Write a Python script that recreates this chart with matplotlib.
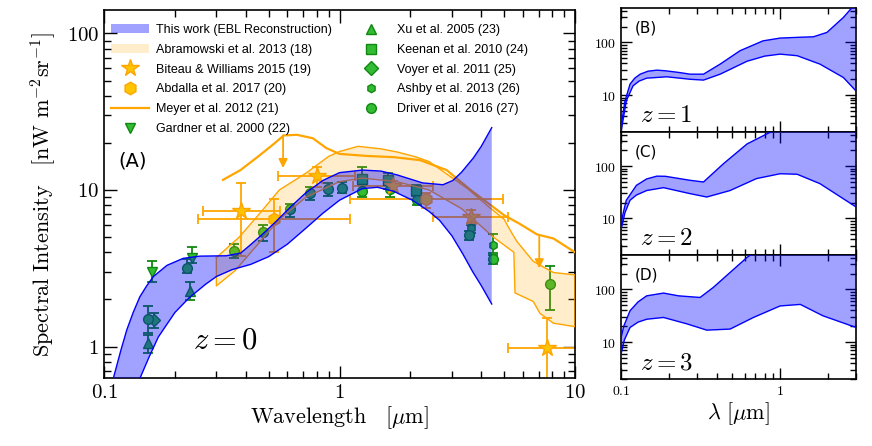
import numpy as np
import matplotlib.pyplot as plt
from matplotlib.lines import Line2D
from matplotlib.patches import Patch
from matplotlib.ticker import FuncFormatter, NullFormatter

plt.rcParams['mathtext.fontset'] = 'cm'
plt.rcParams['font.family'] = ['Liberation Sans', 'DejaVu Sans']

# ---- z = 0 reconstruction band (this work)
wl_up0 = [0.109, 0.118, 0.125, 0.133, 0.142, 0.152, 0.162, 0.185, 0.217, 0.255, 0.33, 0.38, 0.414, 0.47,
          0.538, 0.62, 0.72, 0.85, 1.0, 1.25, 1.5, 1.75, 2.25, 2.75, 3.03, 3.3, 3.7, 4.0, 4.43]
up0 = [0.61, 0.95, 1.28, 1.65, 2.08, 2.45, 2.8, 3.3, 3.66, 3.78, 3.8, 3.95, 4.4, 5.2,
       6.3, 7.8, 9.6, 11.5, 12.9, 13.4, 13.2, 12.5, 11.1, 10.8, 11.5, 13.0, 16.0, 19.0, 25.0]
wl_lo0 = [0.141, 0.155, 0.17, 0.2, 0.23, 0.27, 0.3, 0.35, 0.42, 0.5, 0.6, 0.72, 0.85, 1.0, 1.25,
          1.45, 1.7, 2.04, 2.4, 2.66, 3.0, 3.34, 3.68, 4.0, 4.43]
lo0 = [0.61, 0.85, 1.15, 1.65, 2.05, 2.5, 2.8, 3.1, 3.35, 3.75, 4.5, 5.7, 7.1, 8.6, 10.2,
       10.4, 9.8, 8.6, 7.3, 6.4, 5.1, 3.9, 3.0, 2.45, 1.87]

# ---- Abramowski et al. 2013 band
wl_abr_up = [0.3, 0.375, 0.47, 0.555, 0.72, 0.9, 1.0, 1.2, 1.5, 1.75, 2.1, 2.4, 2.95, 3.5, 4.22,
             5.0, 5.3, 5.66, 6.65, 8.1, 10.0]
abr_up = [3.7, 5.0, 7.4, 10.0, 12.8, 16.4, 17.6, 19.0, 18.3, 17.5, 16.3, 15.2, 12.2, 10.2, 8.0,
          6.5, 5.55, 4.7, 3.5, 2.97, 2.87]
wl_abr_lo = [0.3, 0.36, 0.45, 0.55, 0.72, 1.0, 1.25, 1.75, 2.4, 3.3, 4.5, 5.5, 5.56, 6.65, 7.1,
             8.1, 10.0]
abr_lo = [2.44, 3.05, 4.5, 6.4, 9.0, 11.3, 11.9, 11.3, 10.0, 7.6, 5.0, 4.0, 2.2, 1.94, 1.63,
          1.41, 1.34]

# ---- Meyer et al. 2012 upper limit curve
wl_mey = [0.32, 0.38, 0.45, 0.52, 0.58, 0.66, 0.77, 0.88, 1.0, 1.3, 1.7, 2.2, 2.85, 3.6, 5.0,
          5.8, 6.9, 8.1, 10.0]
mey = [11.6, 13.4, 16.3, 19.4, 22.3, 22.5, 21.4, 18.5, 17.0, 16.5, 16.2, 15.5, 13.4, 10.0, 6.9,
       6.1, 5.2, 4.9, 4.0]
mey_arrow_wl = [0.576, 7.05]
mey_arrow_from = [22.3, 5.04]
mey_arrow_to = [13.8, 3.16]

# ---- Biteau & Williams 2015
bw_wl = [0.383, 0.80, 1.69, 3.6, 7.59]
bw_I = [7.38, 12.3, 10.6, 6.76, 0.977]
bw_wl_lo = [0.262, 0.549, 1.14, 2.5, 5.2]
bw_wl_hi = [0.56, 1.166, 2.5, 5.2, 11.1]
bw_lo = [3.76, 10.5, 9.9, 6.15, 0.4]
bw_hi = [11.0, 14.1, 11.4, 7.45, 1.52]

# ---- Abdalla et al. 2017
ab_wl = [0.528, 2.34]
ab_I = [6.5, 8.7]
ab_wl_lo = [0.251, 1.11]
ab_wl_hi = [1.11, 4.93]
ab_lo = [4.04, 7.67]
ab_hi = [8.72, 9.6]

# ---- galaxy counts
gar_wl = [0.16, 0.237]
gar_I = [3.0, 3.66]
gar_lo = [2.58, 3.42]
gar_hi = [3.54, 4.35]

xu_wl = [0.154, 0.231]
xu_I = [1.06, 2.28]
xu_lo = [0.915, 1.99]
xu_hi = [1.19, 2.6]

kee_wl = [1.25, 1.6, 2.12]
kee_I = [11.7, 11.5, 10.0]
kee_lo = [9.75, 10.2, 9.1]
kee_hi = [14.1, 12.9, 10.8]

voy_wl = [0.163]
voy_I = [1.48]
voy_lo = [1.32]
voy_hi = [1.65]

ash_wl = [3.6, 4.5]
ash_I = [5.7, 4.46]
ash_lo = [5.35, 3.94]
ash_hi = [6.0, 5.23]

dri_wl = [0.154, 0.226, 0.357, 0.472, 0.616, 0.75, 0.896, 1.02, 1.25, 1.64, 2.14, 3.55, 4.5, 7.83]
dri_I = [1.50, 3.19, 4.1, 5.37, 7.53, 9.5, 10.1, 10.3, 9.85, 10.2, 8.6, 5.16, 3.6, 2.51]
dri_lo = [1.22, 2.94, 3.66, 4.75, 6.77, 8.6, 9.1, 9.5, 9.0, 9.0, 8.0, 4.8, 3.35, 1.70]
dri_hi = [1.82, 3.6, 4.53, 5.98, 8.13, 10.5, 11.1, 11.2, 10.7, 11.2, 9.3, 5.5, 3.85, 3.29]

# ---- higher redshift bands (upper edges run off the top of the panels)
wl_up1 = [0.1, 0.103, 0.106, 0.114, 0.122, 0.132, 0.148, 0.168, 0.19, 0.23, 0.272, 0.33, 0.42, 0.56,
          0.78, 1.0, 1.3, 1.62, 1.97, 2.5, 2.78, 3.0]
up1 = [2.5, 4.5, 7.8, 16.2, 21, 25, 28.5, 29.8, 29, 27, 25, 25, 38.8, 69.6,
       107, 121, 125, 128, 155, 298, 430, 520]
wl_lo1 = [0.1, 0.104, 0.108, 0.119, 0.13, 0.145, 0.194, 0.272, 0.33, 0.42, 0.62, 0.8, 1.0, 1.28,
          1.78, 2.5, 3.0]
lo1 = [2.0, 4.0, 7.8, 15, 18.5, 21, 22.3, 20, 19.3, 25, 44, 55, 60, 56,
       38.8, 21.6, 12]

wl_up2 = [0.1, 0.104, 0.108, 0.125, 0.145, 0.168, 0.19, 0.272, 0.33, 0.44, 0.62, 0.82, 0.9, 1.5, 3.0]
up2 = [8.0, 14, 22.3, 43, 57, 64.4, 64, 53.6, 49.8, 111, 266, 410, 470, 700, 900]
wl_lo2 = [0.1, 0.106, 0.114, 0.125, 0.145, 0.185, 0.272, 0.346, 0.485, 0.71, 1.0, 1.28, 1.78, 3.0]
lo2 = [6.0, 13, 22.3, 28, 34.2, 38.8, 29.8, 25.7, 34.2, 57.8, 71.6, 70, 46.3, 16.6]

wl_up3 = [0.1, 0.104, 0.114, 0.128, 0.145, 0.185, 0.23, 0.314, 0.38, 0.62, 0.7, 1.5, 3.0]
up3 = [12, 20, 39.5, 58, 75.6, 85.3, 75.6, 70.4, 109, 406, 520, 800, 1000]
wl_lo3 = [0.1, 0.105, 0.114, 0.128, 0.145, 0.185, 0.26, 0.346, 0.485, 0.68, 1.0, 1.34, 1.86, 3.0]
lo3 = [5.9, 11, 19, 24, 27.2, 29.4, 22.2, 16.9, 17.7, 29.4, 48.6, 52, 31.6, 19]

ORANGE = '#ffa500'
GOLD = '#ffc400'
GREEN_F = '#33bb33'
GREEN_E = '#118811'


def band(ax, wu, u, wl, l, face, edge, alpha, z, outline=False):
    xs = list(wu) + list(wl)[::-1]
    ys = list(u) + list(l)[::-1]
    ax.fill(xs, ys, color=face, alpha=alpha, lw=0, zorder=z)
    if outline:
        ax.plot(xs + [xs[0]], ys + [ys[0]], color=edge, lw=1.0, zorder=z)
    else:
        ax.plot(wu, u, color=edge, lw=1.0, zorder=z)
        ax.plot(wl, l, color=edge, lw=1.0, zorder=z)


def pts(ax, x, y, lo, hi, mk, ms, fc, ec, xlo=None, xhi=None):
    x = np.array(x); y = np.array(y)
    yerr = [y - np.array(lo), np.array(hi) - y]
    xerr = None
    if xlo is not None:
        xerr = [x - np.array(xlo), np.array(xhi) - x]
    ax.errorbar(x, y, yerr=yerr, xerr=xerr, fmt=mk, ms=ms, mfc=fc, mec=ec, ecolor=ec,
                elinewidth=1.3, capsize=3.5, capthick=1.3, zorder=2)


def style(ax, maj=9, mnr=5, size=15):
    ax.set_xscale('log')
    ax.set_yscale('log')
    ax.tick_params(which='both', direction='in', top=True, right=True, width=1.0)
    ax.tick_params(which='major', length=maj, labelsize=size)
    ax.tick_params(which='minor', length=mnr)
    fmt = FuncFormatter(lambda v, p: '$%g$' % v)
    ax.xaxis.set_major_formatter(fmt)
    ax.yaxis.set_major_formatter(fmt)
    ax.xaxis.set_minor_formatter(NullFormatter())
    ax.yaxis.set_minor_formatter(NullFormatter())
    for s in ax.spines.values():
        s.set_linewidth(1.2)


fig = plt.figure(figsize=(8.72, 4.46), dpi=100)
W, H = 872.0, 446.0

# ---------------- main panel
ax = fig.add_axes([104 / W, 1 - 378 / H, (575 - 104) / W, (378 - 10) / H])
style(ax)
ax.set_xlim(0.1, 10)
ax.set_ylim(0.63, 141)
ax.set_xticks([0.1, 1, 10])
ax.set_yticks([1, 10, 100])

pts(ax, gar_wl, gar_I, gar_lo, gar_hi, 'v', 7, GREEN_F, GREEN_E)
pts(ax, xu_wl, xu_I, xu_lo, xu_hi, '^', 7, GREEN_F, GREEN_E)
pts(ax, kee_wl, kee_I, kee_lo, kee_hi, 's', 7, GREEN_F, GREEN_E)
pts(ax, voy_wl, voy_I, voy_lo, voy_hi, 'D', 6.5, GREEN_F, GREEN_E)
pts(ax, ash_wl, ash_I, ash_lo, ash_hi, 'h', 6, GREEN_F, GREEN_E)
pts(ax, dri_wl, dri_I, dri_lo, dri_hi, 'o', 7, GREEN_F, GREEN_E)
pts(ax, bw_wl, bw_I, bw_lo, bw_hi, '*', 13, GOLD, ORANGE, bw_wl_lo, bw_wl_hi)
pts(ax, ab_wl, ab_I, ab_lo, ab_hi, 'h', 9, GOLD, ORANGE, ab_wl_lo, ab_wl_hi)

band(ax, wl_abr_up, abr_up, wl_abr_lo, abr_lo, ORANGE, ORANGE, 0.2, 3, outline=True)
ax.plot(wl_mey, mey, color=ORANGE, lw=1.6, zorder=3)
for xa, y0, y1 in zip(mey_arrow_wl, mey_arrow_from, mey_arrow_to):
    ax.annotate('', xy=(xa, y1), xytext=(xa, y0),
                arrowprops=dict(arrowstyle='-|>', color=ORANGE, lw=1.3, mutation_scale=13,
                                shrinkA=0, shrinkB=0), zorder=3)
band(ax, wl_up0, up0, wl_lo0, lo0, 'blue', 'blue', 0.37, 4)

ax.text(0.03, 0.575, '(A)', transform=ax.transAxes, fontsize=14, family=['DejaVu Sans'])
ax.text(0.19, 0.08, '$z=0$', transform=ax.transAxes, fontsize=22)
ax.set_xlabel(r'$\mathrm{Wavelength}\quad[\mathrm{\mu m}]$', fontsize=16, labelpad=2)
ax.set_ylabel(r'$\mathrm{Spectral\ Intensity}\quad[\mathrm{nW\ m^{-2}sr^{-1}}]$', fontsize=16,
              labelpad=6)

handles = [
    Patch(facecolor='blue', alpha=0.37, edgecolor='none'),
    Patch(facecolor=ORANGE, alpha=0.2, edgecolor='none'),
    Line2D([], [], ls='none', marker='*', ms=13, mfc=GOLD, mec=ORANGE),
    Line2D([], [], ls='none', marker='h', ms=9, mfc=GOLD, mec=ORANGE),
    Line2D([], [], color=ORANGE, lw=1.6),
    Line2D([], [], ls='none', marker='v', ms=7, mfc=GREEN_F, mec=GREEN_E),
    Line2D([], [], ls='none', marker='^', ms=7, mfc=GREEN_F, mec=GREEN_E),
    Line2D([], [], ls='none', marker='s', ms=7, mfc=GREEN_F, mec=GREEN_E),
    Line2D([], [], ls='none', marker='D', ms=7, mfc=GREEN_F, mec=GREEN_E),
    Line2D([], [], ls='none', marker='h', ms=6, mfc=GREEN_F, mec=GREEN_E),
    Line2D([], [], ls='none', marker='o', ms=7, mfc=GREEN_F, mec=GREEN_E),
]
labels = ['This work (EBL Reconstruction)', 'Abramowski et al. 2013 (18)',
          'Biteau & Williams 2015 (19)', 'Abdalla et al. 2017 (20)', 'Meyer et al. 2012 (21)',
          'Gardner et al. 2000 (22)', 'Xu et al. 2005 (23)', 'Keenan et al. 2010 (24)',
          'Voyer et al. 2011 (25)', 'Ashby et al. 2013 (26)', 'Driver et al. 2016 (27)']
ax.legend(handles, labels, ncol=2, loc='upper left', bbox_to_anchor=(0.005, 0.975),
          frameon=False, fontsize=9, handlelength=3.0, handletextpad=0.6,
          columnspacing=1.6, labelspacing=0.62, borderaxespad=0)

# ---------------- right panels
rl, rw = 621 / W, (856 - 621) / W
edges = [8, 132, 255, 379]
bands = [(wl_up1, up1, wl_lo1, lo1, '(B)', '$z=1$'),
         (wl_up2, up2, wl_lo2, lo2, '(C)', '$z=2$'),
         (wl_up3, up3, wl_lo3, lo3, '(D)', '$z=3$')]
for i, (wu, u, wl, l, tag, zt) in enumerate(bands):
    a = fig.add_axes([rl, 1 - edges[i + 1] / H, rw, (edges[i + 1] - edges[i]) / H])
    style(a, maj=8, mnr=4.5, size=10)
    a.set_xlim(0.1, 3)
    a.set_ylim(2, 450)
    a.set_xticks([0.1, 1])
    a.set_yticks([10, 100])
    band(a, wu, u, wl, l, 'blue', 'blue', 0.37, 4)
    a.text(0.06, 0.8, tag, transform=a.transAxes, fontsize=11, family=['DejaVu Sans'])
    a.text(0.08, 0.08, zt, transform=a.transAxes, fontsize=18)
    if i < 2:
        a.tick_params(labelbottom=False)
    else:
        a.set_xlabel(r'$\lambda\ [\mathrm{\mu m}]$', fontsize=16, labelpad=2)

fig.savefig('out.png', dpi=100)
